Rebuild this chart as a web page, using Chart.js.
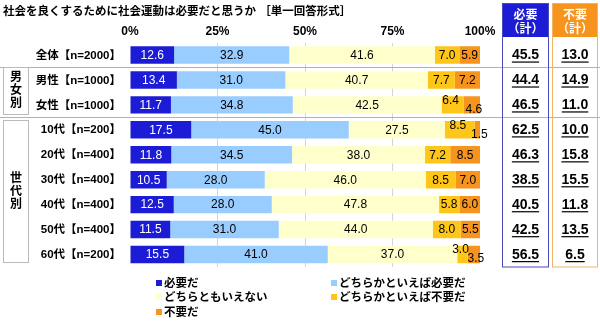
<!DOCTYPE html>
<html>
<head>
<meta charset="utf-8">
<script src="https://cdn.jsdelivr.net/npm/chart.js@4.4.0/dist/chart.umd.min.js"></script>
<style>
  html, body { margin: 0; padding: 0; background: #fff; }
  #wrap { width: 600px; height: 321px; }
</style>
</head>
<body>
<div id="wrap"><canvas id="chart" width="600" height="321"></canvas></div>
<script>
const title = '社会を良くするために社会運動は必要だと思うか ［単一回答形式］';
const categories = ['全体【n=2000】', '男性【n=1000】', '女性【n=1000】', '10代【n=200】', '20代【n=400】',
  '30代【n=400】', '40代【n=400】', '50代【n=400】', '60代【n=200】'];
const seriesNames = ['必要だ', 'どちらかといえば必要だ', 'どちらともいえない', 'どちらかといえば不要だ', '不要だ'];
const hitsuyou     = [12.6, 13.4, 11.7, 17.5, 11.8, 10.5, 12.5, 11.5, 15.5];
const yaHitsuyou   = [32.9, 31.0, 34.8, 45.0, 34.5, 28.0, 28.0, 31.0, 41.0];
const dochiramo    = [41.6, 40.7, 42.5, 27.5, 38.0, 46.0, 47.8, 44.0, 37.0];
const yaFuyou      = [7.0, 7.7, 6.4, 8.5, 7.2, 8.5, 5.8, 8.0, 3.0];
const fuyou        = [5.9, 7.2, 4.6, 1.5, 8.5, 7.0, 6.0, 5.5, 3.5];
const hitsuyouKei  = [45.5, 44.4, 46.5, 62.5, 46.3, 38.5, 40.5, 42.5, 56.5];
const fuyouKei     = [13.0, 14.9, 11.0, 10.0, 15.8, 15.5, 11.8, 13.5, 6.5];
const groups = [
  { name: '男女別', first: 1, last: 2 },
  { name: '世代別', first: 3, last: 8 }
];
const series = [hitsuyou, yaHitsuyou, dochiramo, yaFuyou, fuyou];
const colors = ['#1c1cd6', '#99ccff', '#ffffcc', '#ffc61a', '#f7941d'];

const FONT = "'Liberation Sans', 'Noto Sans CJK JP', sans-serif";
Chart.defaults.font.family = FONT;

const overlay = {
  id: 'overlay',
  afterDraw(chart) {
    const ctx = chart.ctx;
    const xs = chart.scales.x, ys = chart.scales.y;
    const area = chart.chartArea;
    ctx.save();

    // title
    ctx.fillStyle = '#000';
    ctx.font = 'bold 11.5px ' + FONT;
    ctx.textAlign = 'left';
    ctx.textBaseline = 'middle';
    ctx.fillText(title, 3, 12);

    // segment labels
    ctx.font = '12px ' + FONT;
    ctx.textAlign = 'center';
    chart.data.datasets.forEach((ds, di) => {
      const meta = chart.getDatasetMeta(di);
      meta.data.forEach((bar, i) => {
        let cx = (bar.base + bar.x) / 2, cy = bar.y + 0.5;
        const tight = fuyou[i] < 5;
        if (tight && di === 3) { cy -= 5; cx -= 2; }
        if (tight && di === 4) { cy += 4; cx += 2; }
        ctx.fillStyle = di === 0 ? '#fff' : '#000';
        ctx.fillText(ds.data[i].toFixed(1), cx, cy);
      });
    });

    // separators between groups
    const sep = [];
    groups.forEach(g => sep.push((ys.getPixelForValue(g.first - 1) + ys.getPixelForValue(g.first)) / 2));
    ctx.strokeStyle = '#b0b0b0';
    ctx.lineWidth = 1;
    sep.forEach(y => {
      ctx.beginPath();
      ctx.moveTo(0, Math.round(y) + 0.5);
      ctx.lineTo(600, Math.round(y) + 0.5);
      ctx.stroke();
    });

    // group boxes on the left
    groups.forEach((g, k) => {
      const top = Math.round(sep[k]) + (k === 0 ? 0.5 : 3.5);
      const bottom = k < groups.length - 1 ? Math.round(sep[k + 1]) - 2.5 : area.bottom - 4.5;
      ctx.fillStyle = '#fff';
      ctx.fillRect(3.5, top, 25, bottom - top);
      ctx.strokeStyle = '#bbbbbb';
      ctx.strokeRect(3.5, top, 25, bottom - top);
      ctx.fillStyle = '#000';
      ctx.font = 'bold 12px ' + FONT;
      const chars = g.name.split('');
      const mid = (top + bottom) / 2;
      chars.forEach((c, j) => ctx.fillText(c, 16, mid + (j - (chars.length - 1) / 2) * 13));
    });

    // category labels
    ctx.font = 'bold 11.5px ' + FONT;
    ctx.textAlign = 'right';
    ctx.fillStyle = '#000';
    categories.forEach((c, i) => ctx.fillText(c, 121, ys.getPixelForValue(i) + 0.5));

    // total columns
    const cols = [
      { x: 502, w: 47, head: '#1c1cd6', border: '#4a4ab8', label: '必要', vals: hitsuyouKei },
      { x: 552, w: 46, head: '#f7941d', border: '#f0b468', label: '不要', vals: fuyouKei }
    ];
    cols.forEach(col => {
      const cx = col.x + col.w / 2;
      ctx.fillStyle = col.head;
      ctx.fillRect(col.x, 3, col.w, 34);
      ctx.strokeStyle = col.border;
      ctx.strokeRect(col.x + 0.5, 3.5, col.w - 1, area.bottom - 3.5);
      ctx.fillStyle = '#fff';
      ctx.font = 'bold 12px ' + FONT;
      ctx.textAlign = 'center';
      ctx.fillText(col.label, cx, 16);
      ctx.fillText('（計）', cx, 30);
      ctx.fillStyle = '#000';
      ctx.font = 'bold 14px ' + FONT;
      col.vals.forEach((v, i) => {
        const y = ys.getPixelForValue(i) + 0.5;
        const t = v.toFixed(1);
        const w = ctx.measureText(t).width;
        ctx.fillText(t, cx, y);
        ctx.fillRect(cx - w / 2, y + 6, w, 1.2);
      });
    });

    // legend
    const leg = [[158, 283], [333, 283], [158, 297], [333, 297], [158, 312]];
    ctx.font = 'bold 11.5px ' + FONT;
    ctx.textAlign = 'left';
    chart.data.datasets.forEach((ds, di) => {
      const [lx, ly] = leg[di];
      ctx.fillStyle = ds.backgroundColor;
      ctx.fillRect(lx - 2, ly - 3, 6, 6);
      ctx.fillStyle = '#000';
      ctx.fillText(ds.label, lx + 6, ly + 0.5);
    });

    ctx.restore();
  }
};

new Chart(document.getElementById('chart'), {
  type: 'bar',
  data: {
    labels: categories,
    datasets: series.map((d, i) => ({
      label: seriesNames[i],
      data: d,
      backgroundColor: colors[i],
      borderWidth: 0,
      barPercentage: 0.7,
      categoryPercentage: 1
    }))
  },
  options: {
    indexAxis: 'y',
    responsive: false,
    animation: false,
    layout: { padding: { left: 130, right: 120, top: 24.5, bottom: 54 } },
    plugins: { legend: { display: false }, tooltip: { enabled: false } },
    scales: {
      x: {
        position: 'top',
        stacked: true,
        min: 0,
        max: 100,
        border: { display: false },
        grid: {
          drawTicks: false,
          color: ctx => (ctx.tick && ctx.tick.value > 0 && ctx.tick.value < 100) ? '#d4d4d4' : 'rgba(0,0,0,0)'
        },
        ticks: {
          stepSize: 25,
          padding: 4,
          color: '#000',
          font: { size: 12, weight: 'bold' },
          callback: v => v + '%'
        },
        afterFit: s => { s.height = 18; }
      },
      y: {
        stacked: true,
        display: false
      }
    }
  },
  plugins: [overlay]
});
</script>
</body>
</html>
